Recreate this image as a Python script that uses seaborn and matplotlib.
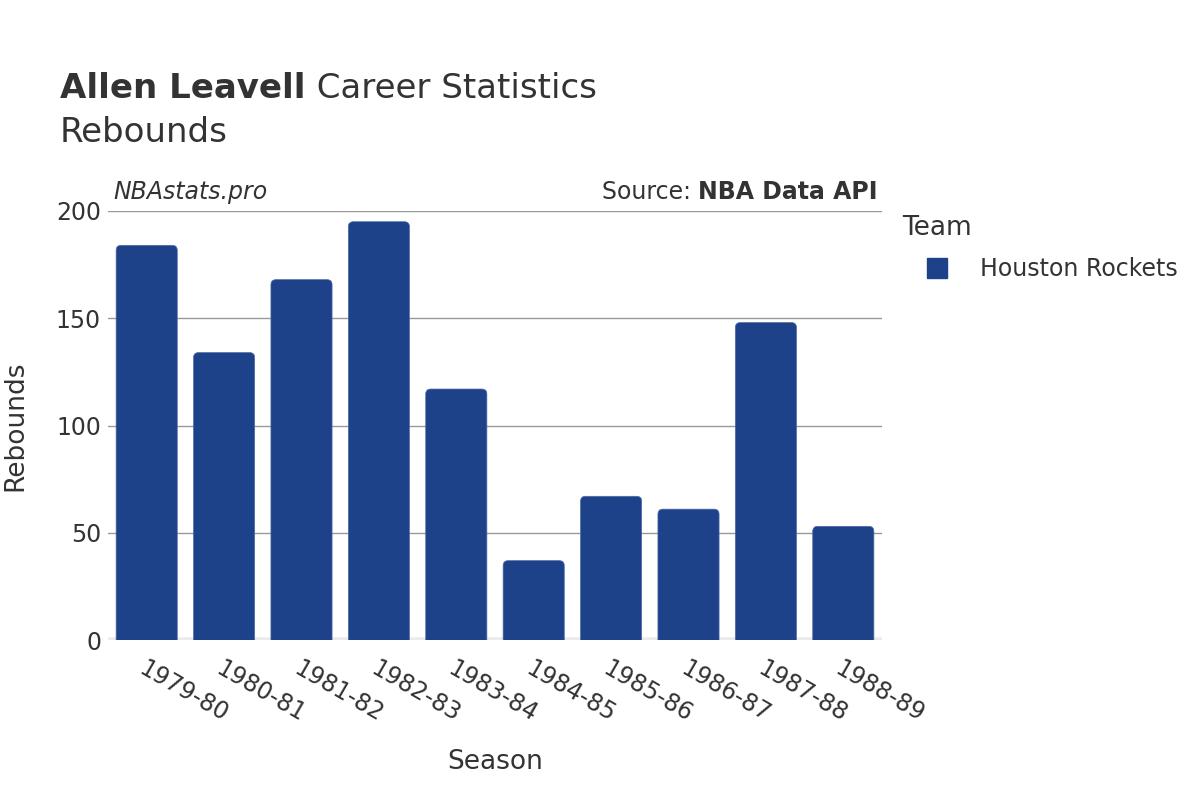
import matplotlib
matplotlib.use("Agg")
import matplotlib.pyplot as plt
import seaborn as sns
import pandas as pd
from matplotlib.patches import FancyBboxPatch

seasons = ["1979-80", "1980-81", "1981-82", "1982-83", "1983-84",
           "1984-85", "1985-86", "1986-87", "1987-88", "1988-89"]
rebounds = [184, 134, 168, 195, 117, 37, 67, 61, 148, 53]
teams = ["Houston Rockets"] * len(seasons)
team_colors = {"Houston Rockets": "#1d428a"}

df = pd.DataFrame({"Season": seasons, "Rebounds": rebounds, "Team": teams})

sns.set_theme(style="white")
plt.rcParams["font.family"] = ["DejaVu Sans"]
TXT = "#333333"

fig = plt.figure(figsize=(12, 8), dpi=100)
ax = fig.add_axes([108 / 1200, 1 - 640 / 800, (882 - 108) / 1200, (640 - 211) / 800])

sns.barplot(data=df, x="Season", y="Rebounds", hue="Team", palette=team_colors,
            width=0.79, saturation=1, ax=ax, legend=False, zorder=3)

ax.set_xlim(-0.5, len(seasons) - 0.5)
ax.set_ylim(0, 200)

# rounded bars
px_x = (882 - 108) / len(seasons)
px_y = (640 - 211) / 200
r = 5 / px_x
aspect = px_x / px_y
for p in list(ax.patches):
    x0, y0 = p.get_x(), p.get_y()
    w, h = p.get_width(), p.get_height()
    ext = r * aspect
    fb = FancyBboxPatch((x0, y0 - ext), w, h + ext,
                        boxstyle=f"round,pad=0,rounding_size={r}",
                        mutation_aspect=aspect,
                        facecolor=p.get_facecolor(), edgecolor="#4d6ba6",
                        linewidth=0.5, zorder=3, clip_on=True)
    ax.add_patch(fb)
    p.remove()

ax.set_yticks([0, 50, 100, 150, 200])
ax.yaxis.grid(True, color="#999999", linewidth=1, zorder=0)
ax.xaxis.grid(False)
for s in ax.spines.values():
    s.set_visible(False)
ax.axhline(0, color="#ebebeb", linewidth=4, zorder=2)

ax.tick_params(axis="y", labelsize=17, labelcolor=TXT, length=0, pad=5)
ax.tick_params(axis="x", labelsize=17, labelcolor=TXT, length=0, pad=12)
for lbl in ax.get_xticklabels():
    lbl.set_rotation(-30)
    lbl.set_ha("left")
    lbl.set_va("top")
    lbl.set_rotation_mode("anchor")

ax.set_xlabel("Season", fontsize=19, color=TXT, labelpad=16)
ax.set_ylabel("Rebounds", fontsize=19, color=TXT, labelpad=20)

# legend
handles = [plt.Line2D([0], [0], marker="s", linestyle="none", markersize=15,
                      markerfacecolor=team_colors[t], markeredgecolor=team_colors[t])
           for t in team_colors]
leg = ax.legend(handles, list(team_colors), title="Team", loc="upper left",
                bbox_to_anchor=(897 / 1200, 1 - 210 / 800), bbox_transform=fig.transFigure,
                frameon=False, fontsize=17, title_fontsize=19, handlelength=3.0,
                handletextpad=0.3, borderaxespad=0, borderpad=0.2, labelspacing=0.6)
leg.get_title().set_color(TXT)
leg._legend_box.align = "left"
leg._legend_box.sep = 12
for t in leg.get_texts():
    t.set_color(TXT)

# titles
fig.canvas.draw()
renderer = fig.canvas.get_renderer()
t1 = fig.text(60 / 1200, 1 - 89 / 800, "Allen Leavell", fontsize=24.5, fontweight="bold",
              color=TXT, va="center", ha="left")
bb = t1.get_window_extent(renderer)
fig.text(bb.x1 / 1200, 1 - 89 / 800, " Career Statistics", fontsize=24.5,
         color=TXT, va="center", ha="left")
fig.text(60 / 1200, 1 - 132 / 800, "Rebounds", fontsize=24.5, color=TXT, va="center", ha="left")

fig.text(113 / 1200, 1 - 192 / 800, "NBAstats.pro", fontsize=17, style="italic",
         color=TXT, va="center", ha="left")
s2 = fig.text(878 / 1200, 1 - 192 / 800, "NBA Data API", fontsize=17, fontweight="bold",
              color=TXT, va="center", ha="right")
bb2 = s2.get_window_extent(renderer)
fig.text(bb2.x0 / 1200, 1 - 192 / 800, "Source: ", fontsize=17, color=TXT,
         va="center", ha="right")

fig.savefig("out.png", dpi=100)
